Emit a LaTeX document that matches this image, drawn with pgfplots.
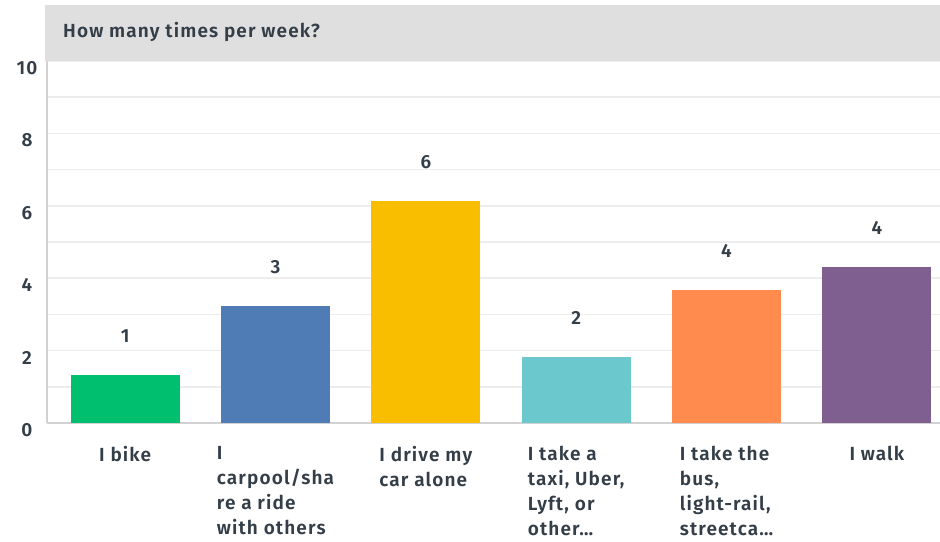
\documentclass[border=0pt]{standalone}
\usepackage{pgfplots}
\pgfplotsset{compat=1.18}
\usepackage{fontspec}
\setmainfont{Fira Sans}[UprightFont={* SemiBold}, LetterSpace=6]
\definecolor{txt}{HTML}{333E48}
\definecolor{hdr}{HTML}{DFDFDF}
\definecolor{gridc}{HTML}{EDEDED}
\definecolor{axc}{HTML}{D2D2D2}
\definecolor{cBike}{HTML}{00BF6F}
\definecolor{cCar}{HTML}{507CB6}
\definecolor{cDrive}{HTML}{F9BE00}
\definecolor{cTaxi}{HTML}{6BC8CD}
\definecolor{cBus}{HTML}{FF8B4F}
\definecolor{cWalk}{HTML}{7F5F90}
\begin{document}
\begin{tikzpicture}
\begin{axis}[
  scale only axis,
  width=893pt, height=362pt,
  ybar, bar width=109pt, bar shift=0pt,
  xmin=-0.52, xmax=5.42,
  ymin=0, ymax=10,
  xtick={0,1,2,3,4,5},
  xticklabels={I bike, {I\\carpool/sha\\re a ride\\with others}, {I drive my\\car alone},
    {I take a\\taxi, Uber,\\Lyft, or\\other…}, {I take the\\bus,\\light-rail,\\streetca…}, I walk},
  ytick={0,2,4,6,8,10},
  minor ytick={1,3,5,7,9},
  ymajorgrids, yminorgrids,
  major grid style={draw=gridc, line width=1.5pt},
  minor grid style={draw=gridc, line width=1.5pt},
  axis x line*=bottom, axis y line*=left,
  axis line style={draw=axc, line width=1.5pt, -},
  major tick length=0pt, minor tick length=0pt,
  tick label style={font=\fontsize{19}{25}\selectfont, text=txt},
  /pgf/number format/assume math mode=true,
  xticklabel style={align=left, anchor=north, inner sep=0pt, yshift=-23pt},
  yticklabel style={anchor=center, xshift=-20pt, yshift=-7pt},
  nodes near coords,
  point meta=explicit symbolic,
  every node near coord/.append style={anchor=center, yshift=39pt,
    font=\fontsize{19}{22}\selectfont, text=txt},
  clip=false,
]
\addplot[fill=cBike, draw=none] coordinates {(0,1.33) [1]};
\addplot[fill=cCar, draw=none] coordinates {(1,3.23) [3]};
\addplot[fill=cDrive, draw=none] coordinates {(2,6.13) [6]};
\addplot[fill=cTaxi, draw=none] coordinates {(3,1.82) [2]};
\addplot[fill=cBus, draw=none] coordinates {(4,3.67) [4]};
\addplot[fill=cWalk, draw=none] coordinates {(5,4.31) [4]};
% header band
\fill[hdr] ([xshift=-2pt]rel axis cs:0,1) rectangle ([yshift=56pt]rel axis cs:1,1);
\node[anchor=west, text=txt, font=\fontsize{19}{22}\selectfont, inner sep=0pt]
  at ([xshift=16pt, yshift=29pt]rel axis cs:0,1) {How many times per week?};
\end{axis}
\pgfresetboundingbox
\path ([shift={(-47pt,-118pt)}]current axis.south west) rectangle ([shift={(0pt,61pt)}]current axis.north east);
\end{tikzpicture}
\end{document}
